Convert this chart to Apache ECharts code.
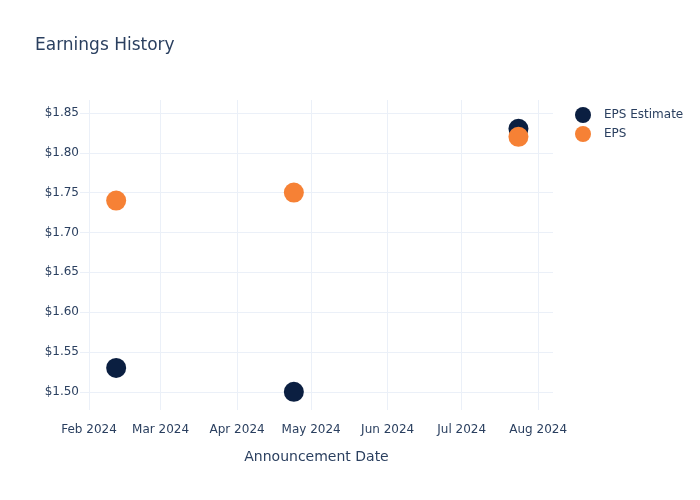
<!DOCTYPE html>
<html>
<head>
<meta charset="utf-8">
<script src="https://cdn.jsdelivr.net/npm/echarts@6/dist/echarts.min.js"></script>
<style>html,body{margin:0;padding:0;background:#fff}#c{width:700px;height:500px}</style>
</head>
<body>
<div id="c"></div>
<script>
const dates = ['2024-02-12', '2024-04-24', '2024-07-24'];
const epsEstimate = [1.53, 1.50, 1.83];
const epsActual = [1.74, 1.75, 1.82];
const xTicks = ['2024-02-01', '2024-03-01', '2024-04-01', '2024-05-01', '2024-06-01', '2024-07-01', '2024-08-01'];
const yTicks = [1.50, 1.55, 1.60, 1.65, 1.70, 1.75, 1.80, 1.85];
const monthNames = ['Jan','Feb','Mar','Apr','May','Jun','Jul','Aug','Sep','Oct','Nov','Dec'];

const DAY = 86400000;
const ts = d => Date.parse(d);
const font = 'DejaVu Sans, sans-serif';
const textColor = '#2a3f5f';
const gridColor = '#ebf0f8';

const chart = echarts.init(document.getElementById('c'), null, {renderer: 'canvas'});
chart.setOption({
  animation: false,
  backgroundColor: '#fff',
  textStyle: {fontFamily: font},
  title: {
    text: 'Earnings History',
    left: 35, top: 37, padding: 0,
    textStyle: {fontFamily: font, fontSize: 17, fontWeight: 'normal', color: textColor}
  },
  legend: {
    orient: 'vertical',
    left: 575, top: 107, padding: 0,
    itemWidth: 16, itemHeight: 16, itemGap: 3,
    icon: 'circle',
    textStyle: {fontFamily: font, fontSize: 12, color: textColor, padding: [0, 0, 0, 8]},
    data: ['EPS Estimate', 'EPS']
  },
  grid: {left: 80, right: 147, top: 100, bottom: 90, containLabel: false},
  xAxis: {
    type: 'value',
    min: ts('2024-02-01') - 3.65 * DAY,
    max: ts('2024-02-01') + 188 * DAY,
    name: 'Announcement Date',
    nameLocation: 'middle',
    nameGap: 40,
    nameTextStyle: {fontFamily: font, fontSize: 14, color: textColor},
    axisLine: {show: false},
    axisTick: {show: false, customValues: xTicks.map(ts)},
    splitLine: {show: true, lineStyle: {color: gridColor, width: 1}},
    axisLabel: {
      customValues: xTicks.map(ts),
      margin: 14,
      fontFamily: font, fontSize: 12, color: textColor,
      formatter: v => { const d = new Date(v); return monthNames[d.getUTCMonth()] + ' ' + d.getUTCFullYear(); }
    }
  },
  yAxis: {
    type: 'value',
    min: 1.4772,
    max: 1.8662,
    axisLine: {show: false},
    axisTick: {show: false, customValues: yTicks},
    splitLine: {show: true, lineStyle: {color: gridColor, width: 1}},
    axisLabel: {
      customValues: yTicks,
      margin: 1,
      fontFamily: font, fontSize: 12, color: textColor,
      formatter: v => '$' + v.toFixed(2)
    }
  },
  series: [
    {
      name: 'EPS Estimate', type: 'scatter', symbolSize: 20,
      itemStyle: {color: '#0b1f41', opacity: 1},
      data: dates.map((d, i) => [ts(d), epsEstimate[i]])
    },
    {
      name: 'EPS', type: 'scatter', symbolSize: 20,
      itemStyle: {color: '#f68135', opacity: 1},
      data: dates.map((d, i) => [ts(d), epsActual[i]])
    }
  ]
});
</script>
</body>
</html>
